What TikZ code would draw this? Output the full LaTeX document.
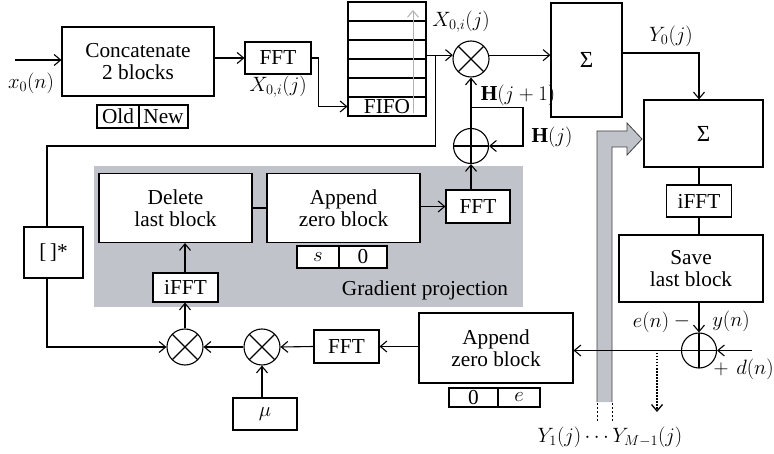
\documentclass[tikz,border=0pt]{standalone}
\usepackage{fontspec}
\setmainfont{Liberation Serif}
\usetikzlibrary{arrows.meta,calc}
\newcommand\txtfont{\fontsize{21.3}{22.5}\selectfont}
\newcommand\sumfont{\fontsize{23}{23}\selectfont}
\definecolor{gp}{RGB}{192,195,202}
\begin{document}
\begin{tikzpicture}[x=1pt,y=-1pt,line width=1.1pt,
  >={Straight Barb[length=6.5pt,width=11pt]},
  every node/.style={font=\txtfont},
  blk/.style={draw,fill=white,inner sep=0pt,align=center},
  cell/.style={draw,fill=white,inner sep=0pt},
  mult/.style={circle,draw,fill=white,minimum size=36pt,inner sep=0pt,
    path picture={\draw (path picture bounding box.north west) -- (path picture bounding box.south east)
      (path picture bounding box.north east) -- (path picture bounding box.south west);}},
  adder/.style={circle,draw,fill=white,minimum size=35pt,inner sep=0pt,
    path picture={\draw (path picture bounding box.north) -- (path picture bounding box.south)
      (path picture bounding box.west) -- (path picture bounding box.east);}},
  lbl/.style={inner sep=0pt}]
\useasboundingbox (0,0) rectangle (774,454);

% gradient projection region
\fill[gp] (94,166) rectangle (523,307);

% fat gray arrow
\fill[gp] (597,402) -- (597,131) -- (627,131) -- (627,123) -- (642,139) -- (627,155) -- (627,147) -- (612,147) -- (612,402) -- cycle;
\draw[black!75,line width=0.8pt] (597,402) -- (597,131) -- (627,131) -- (627,123) -- (642,139) -- (627,155) -- (627,147) -- (612,147) -- (612,402);
\draw[line width=0.9pt,dash pattern=on 1.5pt off 2.5pt] (597,403) -- (597,421) (612,403) -- (612,421);

% top row
\node[blk,minimum width=152pt,minimum height=69pt] (cat) at (138,61.5) {Concatenate\\2 blocks};
\node[cell,minimum width=42pt,minimum height=23pt] (old) at (118,116.5) {Old};
\node[cell,minimum width=49pt,minimum height=23pt] (new) at (163.5,116.5) {New};
\node[blk,minimum width=66pt,minimum height=32pt] (fft1) at (278,58) {FFT};
\node[blk,minimum width=78pt,minimum height=114pt] (fifo) at (387,59) {};
\foreach \yy in {21,40,59,78,97} \draw (348,\yy) -- (426,\yy);
\node[lbl] (fifot) at (387,106.5) {FIFO};
\draw[black!30,line width=1pt,->] (413,113) -- (413,10);
\node[mult] (m0) at (471,59) {};
\node[blk,minimum width=71pt,minimum height=114pt] (s1) at (586.5,60) {\sumfont Σ};
\node[blk,minimum width=119pt,minimum height=67pt] (s2) at (703.5,133.5) {\sumfont Σ};
\node[blk,minimum width=65pt,minimum height=32pt] (ifft2) at (699,201) {iFFT};
\node[blk,minimum width=144pt,minimum height=67pt] (save) at (691,268.5) {Save\\last block};
\node[adder] (a2) at (699,350.5) {};

% gradient projection content
\node[blk,minimum width=153pt,minimum height=69pt] (del) at (175.5,208) {Delete\\last block};
\node[blk,minimum width=153pt,minimum height=69pt] (app1) at (343.5,208) {Append\\zero block};
\node[cell,minimum width=42pt,minimum height=22pt] (s0) at (318,257) {$s$};
\node[cell,minimum width=48pt,minimum height=22pt] (z1) at (363,257) {0};
\node[blk,minimum width=64pt,minimum height=33pt] (fft2) at (478,206.5) {FFT};
\node[blk,minimum width=65pt,minimum height=29pt] (ifft1) at (185.5,287.5) {iFFT};
\node[adder] (a1) at (471,146) {};
\node[lbl] (lgp) at (425,290) {Gradient projection};

% bottom row
\node[blk,minimum width=154pt,minimum height=70pt] (app2) at (496,348) {Append\\zero block};
\node[cell,minimum width=49pt,minimum height=19pt] (z2) at (473.5,397.5) {0};
\node[cell,minimum width=42pt,minimum height=19pt] (e2) at (519,397.5) {$e$};
\node[blk,minimum width=65pt,minimum height=33pt] (fft3) at (346.5,346.5) {FFT};
\node[mult] (m2) at (262,347) {};
\node[mult] (m1) at (185,347) {};
\node[blk,minimum width=64pt,minimum height=32pt] (mu) at (265,414) {$\mu$};
\node[blk,minimum width=59pt,minimum height=51pt] (conj) at (53.5,252.5) {[\,]*};

% coordinates
\coordinate (xin) at (15,60);
\coordinate (br) at ($(m0.168 -| fifo.east)+(9,0)$);
\coordinate (c1) at (47,146);
\coordinate (vx) at (699,53);
\coordinate (hb) at ($(a1.north)+(0,-20)$);
\coordinate (din) at (752,350.5);
\coordinate (dots) at (657,353);

% connectors
\draw[->] (xin) -- (cat.west |- xin);
\draw[->] (cat.east |- fft1) -- (fft1.west);
\draw[->] (fft1.east) -- ++(7,0) |- (fifot -| fifo.west);
\draw[->] (m0.168 -| fifo.east) -- (m0.168);
\draw[->] (m0.12) -- (m0.12 -| s1.west);
\draw (br) |- (c1) -- (c1 |- conj.north);
\draw[->] (c1 |- conj.south) |- (m1.west);
\draw[->] (m2.west) -- (m1.east);
\draw[->] (fft3.west) -- (m2.east);
\draw[->] (app2.west |- fft3) -- (fft3.east);
\draw[->] (m2 |- mu.north) -- (m2.south);
\draw[->] (m1.north) -- (ifft1.south -| m1);
\draw[->] (ifft1.north -| m1) -- (del.south -| m1);
\draw (del.east) -- (app1.west |- del.east);
\draw[->] (app1.east |- fft2) -- (fft2.west);
\draw[->] (a1 |- fft2.north) -- (a1.south);
\draw[->] (a1.north) -- (m0.south);
\draw[->] (hb) -- ++(52,0) |- (a1.east);
\draw[->] (s1.east |- vx) -- (vx) -- (vx |- s2.north);
\draw (vx |- s2.south) -- (vx |- ifft2.north);
\draw (vx |- ifft2.south) -- (vx |- save.north);
\draw[->] (vx |- save.south) -- (a2.north);
\draw[->] (a2.west) -- (a2.west -| app2.east);
\draw[->] (din) -- (a2.east);
\draw[line width=1.3pt,dash pattern=on 1.5pt off 1.5pt,->] (dots) -- ++(0,59);

% labels
\node[lbl] (lx0) at (31,83) {$x_0(n)$};
\node[lbl] (lX1) at (278,87) {$X_{0,i}(j)$};
\node[lbl] (lX2) at (461,22) {$X_{0,i}(j)$};
\node[lbl] (lH1) at (518,95) {$\mathbf{H}(j+1)$};
\node[lbl] (lH0) at (552,137) {$\mathbf{H}(j)$};
\node[lbl] (lY0) at (671,36) {$Y_0(j)$};
\node[lbl] (len) at (651,322) {$e(n)$};
\node[lbl] (lmin) at (682,321) {$-$};
\node[lbl] (lyn) at (731,321) {$y(n)$};
\node[lbl] (lpl) at (721,369) {$+$};
\node[lbl] (ldn) at (755,369) {$d(n)$};
\node[lbl] (lY) at (610,437) {$Y_1(j)\cdots Y_{M-1}(j)$};
\end{tikzpicture}
\end{document}
